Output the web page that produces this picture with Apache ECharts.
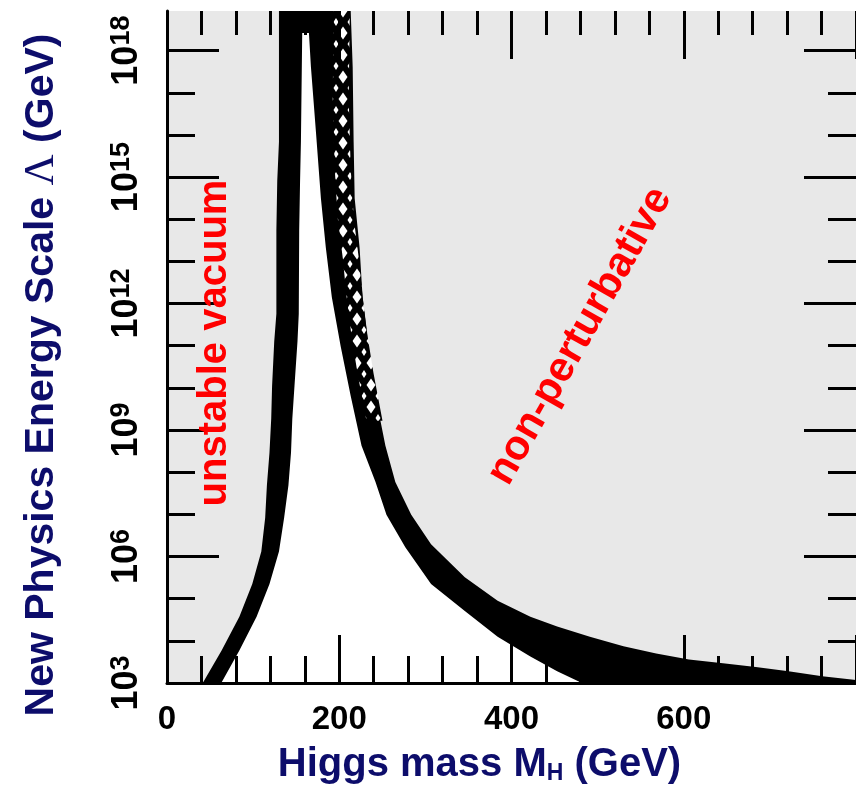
<!DOCTYPE html>
<html>
<head>
<meta charset="utf-8">
<script src="https://cdn.jsdelivr.net/npm/echarts@6/dist/echarts.min.js"></script>
<style>
  html, body { margin: 0; padding: 0; background: #fff; }
  #chart { width: 856px; height: 790px; }
</style>
</head>
<body>
<div id="chart"></div>
<script>
// Vacuum-stability (lower) and triviality (upper) bounds on the Higgs mass
// versus the scale of new physics. Masses in GeV, scales as log10(Λ / GeV).

// Lower band: stability bound (outer = unstable side, inner = allowed side)
const stabilityOuterMass = [41.5, 63.4, 84, 99, 109.5, 114, 116, 119, 121, 122, 124.5, 127, 127, 128, 130, 130];
const stabilityOuterExp  = [3.0, 3.77, 4.57, 5.35, 6.12, 6.92, 7.69, 8.47, 9.27, 10.04, 11.1, 11.76, 13.73, 14.9, 15.84, 18.94];
const stabilityInnerMass = [63, 84, 104, 119, 130, 136, 141, 144, 145.5, 148, 151.5, 153, 153.5, 154.5, 155.5, 157];
const stabilityInnerExp  = [3.0, 3.77, 4.57, 5.35, 6.12, 6.92, 7.69, 8.47, 9.27, 10.04, 11.1, 11.76, 13.73, 14.9, 15.84, 18.42];

// Upper band: triviality bound (inner = allowed side, outer = non-perturbative side)
const trivialityInnerMass = [164.8, 167.1, 172.9, 178.7, 184.4, 191.4, 201.7, 213.3, 225.9, 242.1, 254.8, 276.7, 306.6, 345.8, 383.9, 421.9, 453, 481.8];
const trivialityInnerExp  = [18.42, 17.62, 16.08, 14.5, 13.33, 12.15, 10.98, 9.81, 8.63, 7.77, 6.99, 6.22, 5.35, 4.71, 4.10, 3.63, 3.28, 3.0];
const trivialityOuterMass = [213.3, 215.6, 216.7, 217.9, 223.6, 227.1, 234, 242.1, 253.6, 265.1, 283.6, 306.6, 345.8, 383.9, 421.9, 453, 491, 530, 568, 606, 645.5, 683.6, 721.6, 760.8, 800];
const trivialityOuterExp  = [18.94, 17.62, 15.84, 14.5, 13.33, 12.15, 10.98, 9.81, 8.63, 7.77, 6.99, 6.29, 5.51, 4.95, 4.57, 4.34, 4.10, 3.87, 3.70, 3.56, 3.47, 3.38, 3.28, 3.16, 3.07];

// Centre line of the hatched (overlapping) part of the triviality band
const hatchMass = [202.9, 201.7, 204.0, 207.5, 213.3, 217.9, 223.6, 230.5, 240.9];
const hatchExp  = [18.94, 16.85, 15.21, 14.03, 13.09, 12.15, 11.22, 10.35, 9.22];

// Axis ranges and ticks
const massMin = 0, massMax = 800;
const expMin = 3, expMax = 18.94;
const xTickValues = [0, 200, 400, 600];
const yMajorExps = [3, 6, 9, 12, 15, 18];
const yMinorExps = [4, 5, 7, 8, 10, 11, 13, 14, 16, 17];

const NAVY = '#0d0d6b';
const SANS = '"Liberation Sans", Arial, sans-serif';

// Cross-hatch tile: white diamond holes with half-diamonds at the tile corners
function hatchPattern() {
  const w = 14, h = 22;
  const c = document.createElement('canvas');
  c.width = w; c.height = h;
  const g = c.getContext('2d');
  g.fillStyle = '#000';
  g.fillRect(0, 0, w, h);
  g.fillStyle = '#fff';
  const diamond = (cx, cy, rx, ry) => {
    g.beginPath();
    g.moveTo(cx, cy - ry); g.lineTo(cx + rx, cy); g.lineTo(cx, cy + ry); g.lineTo(cx - rx, cy);
    g.closePath();
    g.fill();
  };
  diamond(w / 2, h / 2, 4.5, 6.5);
  [[0, 0], [w, 0], [0, h], [w, h]].forEach(p => diamond(p[0], p[1], 2.5, 4));
  return c;
}
const hatchImage = hatchPattern();

function toPoints(api, mass, exp) {
  return mass.map((m, i) => api.coord([m, exp[i]]));
}

function renderBounds(params, api) {
  const sOut = toPoints(api, stabilityOuterMass, stabilityOuterExp);
  const sIn = toPoints(api, stabilityInnerMass, stabilityInnerExp);
  const tIn = toPoints(api, trivialityInnerMass, trivialityInnerExp);
  const tOut = toPoints(api, trivialityOuterMass, trivialityOuterExp);
  const base = api.coord([massMin, expMin])[1];

  const black = sOut.concat(tOut, [[tOut[tOut.length - 1][0], base], [sOut[0][0], base]]);
  const white = sIn.concat(tIn);

  const centre = toPoints(api, hatchMass, hatchExp);
  const half = 8;
  const hatch = centre.map(p => [p[0] - half, p[1]])
    .concat(centre.slice().reverse().map(p => [p[0] + half, p[1]]));

  return {
    type: 'group',
    children: [
      { type: 'polygon', shape: { points: black }, style: { fill: '#000' } },
      { type: 'polygon', shape: { points: white }, style: { fill: '#fff' } },
      { type: 'polygon', shape: { points: hatch }, style: { fill: { image: hatchImage, repeat: 'repeat' } } }
    ]
  };
}

const tickStyle = { color: '#000', width: 3 };

function yAxisDef(position, values, length, withLabels) {
  return {
    type: 'value',
    position: position,
    min: expMin,
    max: expMax,
    interval: 3,
    z: 3,
    axisLine: { show: withLabels, onZero: false, lineStyle: { color: '#000', width: 3 } },
    axisTick: { show: true, inside: true, length: length, customValues: values, lineStyle: tickStyle },
    minorTick: { show: false },
    splitLine: { show: false },
    axisLabel: withLabels ? {
      show: true,
      customValues: yMajorExps,
      rotate: 90,
      margin: 21,
      formatter: v => '{b|10}{s|' + v + '}',
      rich: {
        b: { fontFamily: SANS, fontWeight: 'bold', fontSize: 36, lineHeight: 38, color: '#000' },
        s: { fontFamily: SANS, fontWeight: 'bold', fontSize: 27, lineHeight: 20, verticalAlign: 'top', color: '#000' }
      }
    } : { show: false }
  };
}

const leftAxis = yAxisDef('left', yMajorExps, 52, true);
leftAxis.name = '{b|New Physics Energy Scale }{l|Λ}{b| (GeV)}';
leftAxis.nameLocation = 'middle';
leftAxis.nameRotate = 90;
leftAxis.nameGap = 104;
leftAxis.nameTextStyle = {
  padding: [0, 56, 0, 0],
  rich: {
    b: { fontFamily: SANS, fontWeight: 'bold', fontSize: 41, lineHeight: 42, color: NAVY },
    l: { fontFamily: '"Liberation Serif", serif', fontWeight: 'normal', fontSize: 43, lineHeight: 42, color: NAVY }
  }
};

function xAxisDef(position, withLabels, minorLength) {
  return {
    type: 'value',
    position: position,
    min: massMin,
    max: massMax,
    interval: 200,
    z: 3,
    axisLine: { show: withLabels, onZero: false, lineStyle: { color: '#000', width: 3 } },
    axisTick: { show: true, inside: true, length: 48, lineStyle: tickStyle },
    minorTick: { show: true, splitNumber: 5, length: minorLength, lineStyle: tickStyle },
    splitLine: { show: false },
    minorSplitLine: { show: false },
    axisLabel: withLabels ? {
      show: true,
      customValues: xTickValues,
      margin: 20,
      fontFamily: SANS, fontWeight: 'bold', fontSize: 33, color: '#000'
    } : { show: false }
  };
}

const bottomAxis = xAxisDef('bottom', true, 27);
bottomAxis.name = '{b|Higgs mass M}{h|H}{b| (GeV)}';
bottomAxis.nameLocation = 'middle';
bottomAxis.nameGap = 62;
bottomAxis.nameTextStyle = {
  padding: [0, 64, 0, 0],
  rich: {
    b: { fontFamily: SANS, fontWeight: 'bold', fontSize: 40, lineHeight: 40, color: NAVY },
    h: { fontFamily: SANS, fontWeight: 'bold', fontSize: 23, lineHeight: 18, verticalAlign: 'bottom', color: NAVY }
  }
};

const chart = echarts.init(document.getElementById('chart'), null, { renderer: 'canvas' });
chart.setOption({
  animation: false,
  backgroundColor: '#fff',
  grid: {
    left: 167, top: 11, width: 695, height: 679,
    show: true, backgroundColor: '#e8e8e8', borderWidth: 0
  },
  xAxis: [bottomAxis, xAxisDef('top', false, 24)],
  yAxis: [
    leftAxis,
    yAxisDef('left', yMinorExps, 28, false),
    yAxisDef('right', yMajorExps, 52, false),
    yAxisDef('right', yMinorExps, 28, false)
  ],
  series: [{
    type: 'custom',
    coordinateSystem: 'cartesian2d',
    xAxisIndex: 0,
    yAxisIndex: 0,
    silent: true,
    z: 1,
    data: [0],
    renderItem: renderBounds
  }],
  graphic: [
    {
      type: 'text', x: 215, y: 343, rotation: Math.PI / 2, z: 10,
      style: { text: 'unstable vacuum', fill: '#ff0000', font: 'bold 40px ' + SANS, align: 'center', verticalAlign: 'middle' }
    },
    {
      type: 'text', x: 580, y: 336, rotation: 1.058, z: 10,
      style: { text: 'non-perturbative', fill: '#ff0000', font: 'bold 42px ' + SANS, align: 'center', verticalAlign: 'middle' }
    }
  ]
});
</script>
</body>
</html>
